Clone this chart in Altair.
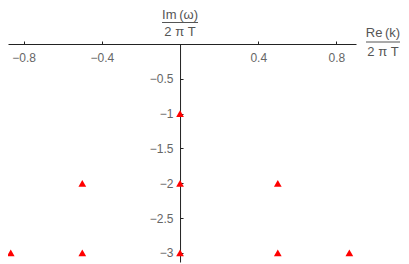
import altair as alt
import pandas as pd

re_k = [0.0, -0.5, 0.0, 0.5, -0.866, -0.5, 0.0, 0.5, 0.866]
im_w = [-1.0, -2.0, -2.0, -2.0, -3.0, -3.0, -3.0, -3.0, -3.0]
x_ticks = [-0.8, -0.4, 0.4, 0.8]
y_ticks = [-0.5, -1.0, -1.5, -2.0, -2.5, -3.0]
x_domain = [-0.88, 0.9]
y_domain = [-3.13, 0.0]

W = 348
H = 218
x0 = (0 - x_domain[0]) / (x_domain[1] - x_domain[0]) * W

df = pd.DataFrame({"re": re_k, "im": im_w})

FONT = "Liberation Sans"
GRAY = "#666666"

xs = alt.Scale(domain=x_domain, nice=False, zero=False)
ys = alt.Scale(domain=y_domain, nice=False, zero=False)

points = alt.Chart(df).mark_point(
    shape="triangle-up", filled=True, color="#ff0000", size=60, opacity=1
).encode(
    x=alt.X("re:Q", scale=xs, axis=alt.Axis(
        orient="top", values=x_ticks, format="~g", title=None, grid=False,
        domainColor="#222222", tickColor="#222222", tickSize=3,
        labelBaseline="alphabetic", labelPadding=-20, labelFont=FONT,
        labelFontSize=12, labelColor=GRAY, labelFlush=False)),
    y=alt.Y("im:Q", scale=ys, axis=alt.Axis(
        orient="right", offset=-(W - x0), values=y_ticks, format="~g",
        title=None, grid=False, domainColor="#222222", tickColor="#222222",
        tickSize=3, labelAlign="right", labelPadding=-10, labelFont=FONT,
        labelFontSize=12, labelColor=GRAY, labelFlush=False)),
)

title_df = pd.DataFrame({"t": ["Im\u2009(\u03c9)", "2 \u03c0 T"], "re": [0.0, 0.0], "yy": [-25, -8]})

top_title = alt.Chart(title_df).mark_text(
    font=FONT, fontSize=13, color="#555555", align="center", baseline="alphabetic"
).encode(x=alt.X("re:Q", scale=xs), y=alt.value(0), text="t:N", yOffset=alt.YOffset("yy:Q", scale=None))

top_rule = alt.Chart(title_df.head(1)).mark_rule(color="#555555", strokeWidth=1).encode(
    x=alt.value(x0 - 18), x2=alt.value(x0 + 18), y=alt.value(-21.5)
)

right_df = pd.DataFrame({"t": ["Re\u2009(k)", "2 \u03c0 T"], "yy": [-7, 12]})
right_title = alt.Chart(right_df).mark_text(
    font=FONT, fontSize=13, color="#555555", align="center", baseline="alphabetic"
).encode(x=alt.value(375), y=alt.value(0), text="t:N", yOffset=alt.YOffset("yy:Q", scale=None))

right_rule = alt.Chart(right_df.head(1)).mark_rule(color="#555555", strokeWidth=1).encode(
    x=alt.value(358), x2=alt.value(392), y=alt.value(-2)
)

chart = alt.layer(points, top_title, top_rule, right_title, right_rule).properties(
    width=W, height=H,
    autosize=alt.AutoSizeParams(type="none"),
    padding={"left": 0, "top": 36, "right": 45, "bottom": 2},
).configure_view(stroke=None)

chart.save("out.html", embed_options={"renderer": "svg", "actions": False})
